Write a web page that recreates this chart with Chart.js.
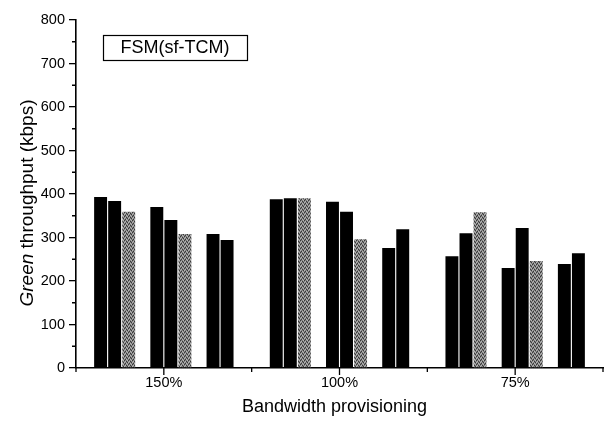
<!DOCTYPE html>
<html>
<head>
<meta charset="utf-8">
<script src="https://cdn.jsdelivr.net/npm/chart.js@4/dist/chart.umd.min.js"></script>
<style>
html,body{margin:0;padding:0;background:#fff;overflow:hidden;}
#wrap{position:absolute;left:0;top:0;width:605px;height:421px;}
</style>
</head>
<body>
<div id="wrap"><canvas id="c" width="605" height="421"></canvas></div>
<script>
// ---- data ----
const categories = ['150%', '100%', '75%'];
const yTicks = [0, 100, 200, 300, 400, 500, 600, 700, 800];
// three clusters of bars per category: (s1,s2,s3) (s4,s5,s6) (s7,s8)
const s1 = [393, 388, 257];
const s2 = [384, 390, 310];
const s3 = [359, 390, 358];   // gray
const s4 = [370, 382, 230];
const s5 = [340, 359, 322];
const s6 = [308, 296, 246];   // gray
const s7 = [308, 276, 239];
const s8 = [294, 319, 264];
const boxLabel = 'FSM(sf-TCM)';
const xTitle = 'Bandwidth provisioning';
const yTitleItalic = 'Green';
const yTitleRest = ' throughput (kbps)';

// ---- styles ----
const FONT = '"Liberation Sans", Arial, Helvetica, sans-serif';
function grayPattern() {
  const c = document.createElement('canvas');
  c.width = 4; c.height = 4;
  const g = c.getContext('2d');
  g.fillStyle = '#808080'; g.fillRect(0, 0, 4, 4);
  const dark = [[0,0],[2,1],[1,3],[3,2]];
  const light = [[1,1],[3,0],[0,2],[2,3]];
  g.fillStyle = '#383838'; dark.forEach(p => g.fillRect(p[0], p[1], 1, 1));
  g.fillStyle = '#b8b8b8'; light.forEach(p => g.fillRect(p[0], p[1], 1, 1));
  return g.createPattern(c, 'repeat');
}
const black = '#000000';
const gray = grayPattern();

function ds(data, color) {
  return { data: data, backgroundColor: color, borderWidth: 0,
           barPercentage: 0.92, categoryPercentage: 0.8 };
}
const spacer = () => ds([null, null, null], 'rgba(0,0,0,0)');

const datasets = [
  ds(s1, black), ds(s2, black), ds(s3, gray), spacer(),
  ds(s4, black), ds(s5, black), ds(s6, gray), spacer(),
  ds(s7, black), ds(s8, black)
];

const extras = {
  id: 'extras',
  afterDraw(chart) {
    const ctx = chart.ctx;
    const x = chart.scales.x, y = chart.scales.y;
    const ca = chart.chartArea;
    ctx.save();
    ctx.strokeStyle = '#000';
    ctx.lineWidth = 1.3;
    // x ticks: major at centers, minor at boundaries
    ctx.beginPath();
    categories.forEach((c, i) => {
      const px = x.getPixelForValue(i);
      ctx.moveTo(px, ca.bottom); ctx.lineTo(px, ca.bottom + 7);
    });
    for (let i = 0; i <= categories.length; i++) {
      const px = x.getPixelForValue(i - 0.5);
      ctx.moveTo(px, ca.bottom); ctx.lineTo(px, ca.bottom + 4);
    }
    // y minor ticks
    for (let v = 50; v < 800; v += 100) {
      const py = y.getPixelForValue(v);
      ctx.moveTo(ca.left, py); ctx.lineTo(ca.left - 4, py);
    }
    ctx.stroke();

    // annotation box
    const bx = ca.left + 27, by = ca.top + 15, bw = 144, bh = 25;
    ctx.lineWidth = 1.2;
    ctx.strokeRect(bx + 0.5, by + 0.5, bw, bh);
    ctx.fillStyle = '#000';
    ctx.font = '18px ' + FONT;
    ctx.textAlign = 'center';
    ctx.textBaseline = 'middle';
    ctx.fillText(boxLabel, bx + bw / 2, by + bh / 2 + 1);

    // x title
    ctx.font = '18px ' + FONT;
    ctx.fillText(xTitle, (ca.left + ca.right) / 2 - 5, 407);

    // y title (mixed italic)
    ctx.translate(28, 203);
    ctx.rotate(-Math.PI / 2);
    ctx.font = 'italic 19px ' + FONT;
    const w1 = ctx.measureText(yTitleItalic).width;
    ctx.font = '19px ' + FONT;
    const w2 = ctx.measureText(yTitleRest).width;
    const start = -(w1 + w2) / 2;
    ctx.textAlign = 'left';
    ctx.font = 'italic 19px ' + FONT;
    ctx.fillText(yTitleItalic, start, 0);
    ctx.font = '19px ' + FONT;
    ctx.fillText(yTitleRest, start + w1, 0);
    ctx.restore();
  }
};

new Chart(document.getElementById('c'), {
  type: 'bar',
  data: { labels: categories, datasets: datasets },
  options: {
    responsive: false,
    animation: false,
    events: [],
    layout: { padding: { left: 0, right: 2, top: 20, bottom: 0 } },
    plugins: { legend: { display: false }, tooltip: { enabled: false } },
    scales: {
      x: {
        grid: { display: false, drawTicks: false, tickLength: 0 },
        border: { display: true, color: '#000', width: 1.6 },
        ticks: { color: '#000', font: { family: FONT, size: 14.5 }, padding: 6, maxRotation: 0 },
        afterFit(s) { s.height = 53; }
      },
      y: {
        min: 0, max: 800,
        afterBuildTicks(s) { s.ticks = yTicks.map(v => ({ value: v })); },
        grid: { display: true, drawOnChartArea: false, drawTicks: true, tickLength: 7, color: '#000', lineWidth: 1.3 },
        border: { display: true, color: '#000', width: 1.6 },
        ticks: { color: '#000', font: { family: FONT, size: 14.5 }, padding: 4 },
        afterFit(s) { s.width = 76; }
      }
    }
  },
  plugins: [extras]
});
</script>
</body>
</html>
